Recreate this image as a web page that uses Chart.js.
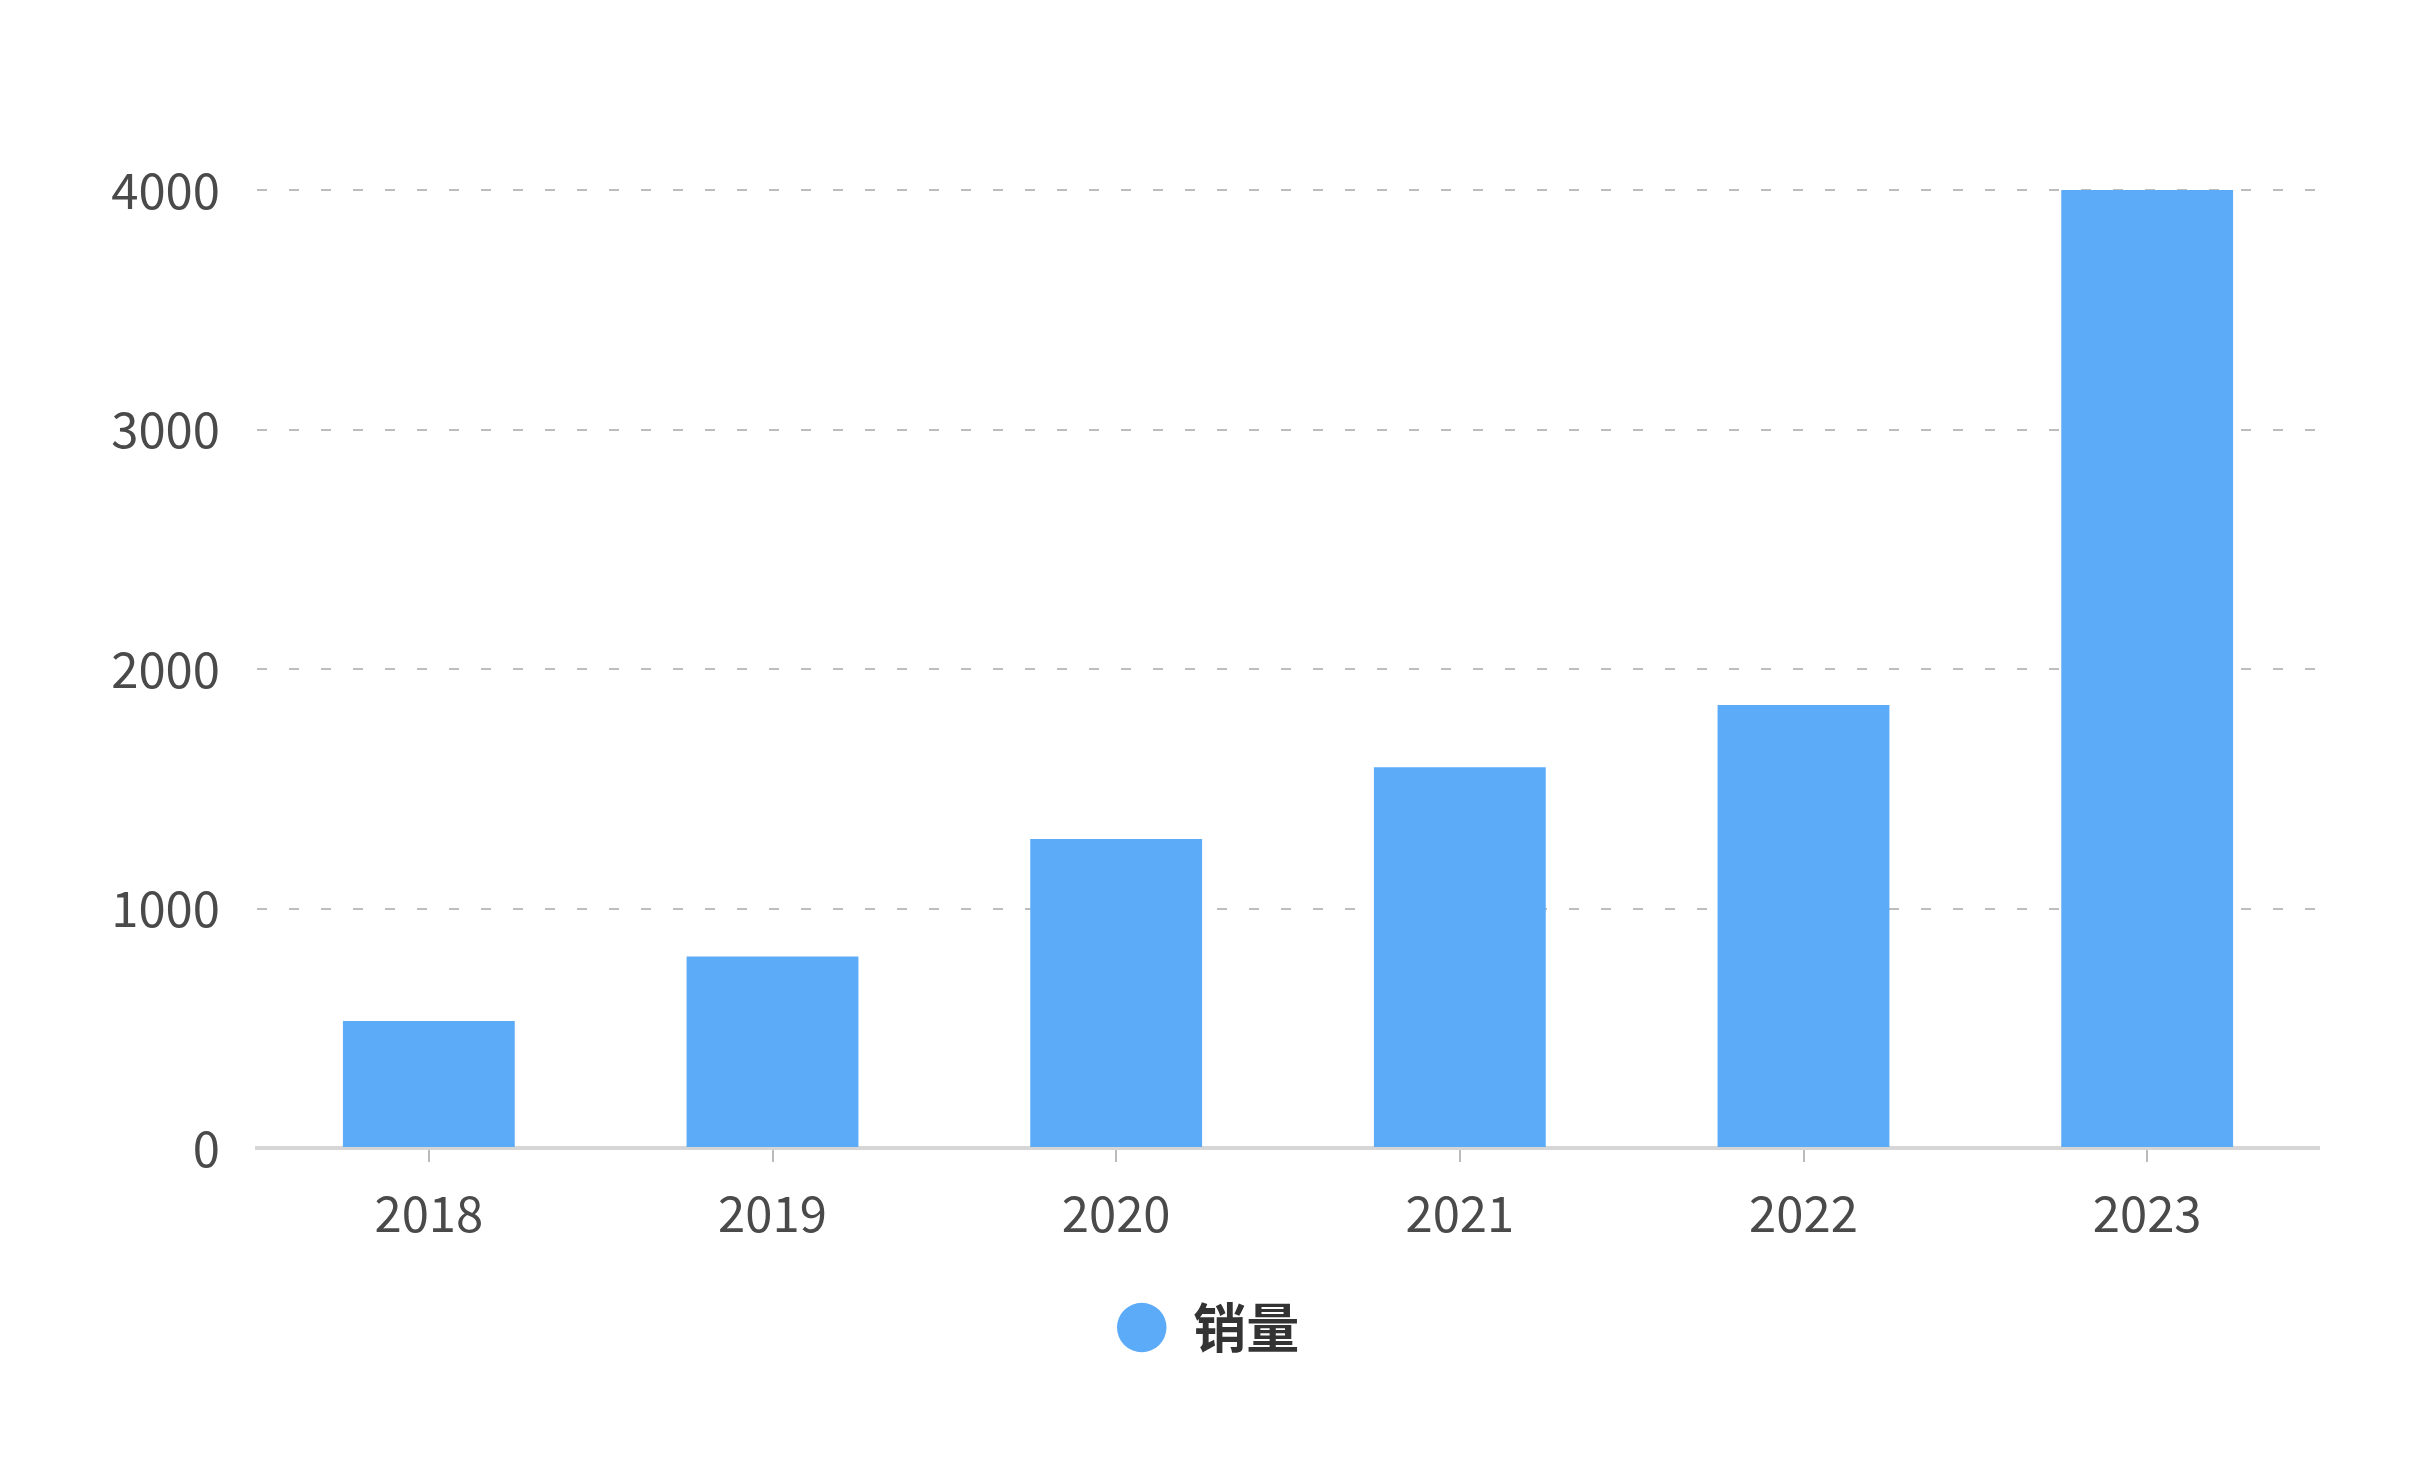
<!DOCTYPE html>
<html>
<head>
<meta charset="utf-8">
<script src="https://cdn.jsdelivr.net/npm/chart.js@4/dist/chart.umd.min.js"></script>
<style>
  html, body { margin: 0; padding: 0; background: #FFFFFF; }
  #wrap { width: 2416px; height: 1472px; }
</style>
</head>
<body>
<div id="wrap"><canvas id="salesChart" width="2416" height="1472"></canvas></div>
<script>
// données du graphique
const years = ['2018', '2019', '2020', '2021', '2022', '2023'];
const sales = [530, 800, 1290, 1590, 1850, 4000];
const yTicks = [0, 1000, 2000, 3000, 4000];
const seriesLabel = '销量';

const barColor = '#5BABF8';
const fontFamily = "'Noto Sans CJK SC', 'Noto Sans', sans-serif";

const ctx = document.getElementById('salesChart');

new Chart(ctx, {
    type: 'bar',
    data: {
        labels: years,
        datasets: [{
            label: seriesLabel,
            data: sales,
            backgroundColor: barColor,
            borderWidth: 0,
            barPercentage: 0.5,
            categoryPercentage: 1.0
        }]
    },
    options: {
        responsive: false,
        devicePixelRatio: 1,
        animation: false,
        layout: {
            padding: { left: 0, right: 0, top: 190, bottom: 108 }
        },
        plugins: {
            legend: {
                display: true,
                position: 'bottom',
                labels: {
                    color: '#333333',
                    usePointStyle: true,
                    pointStyle: 'circle',
                    boxWidth: 50,
                    boxHeight: 35,
                    padding: 33,
                    font: { family: fontFamily, size: 53, weight: 'bold' }
                }
            },
            tooltip: { enabled: false }
        },
        scales: {
            x: {
                grid: {
                    offset: false,
                    drawOnChartArea: false,
                    drawTicks: true,
                    tickLength: 14,
                    tickColor: '#BBBBBB',
                    lineWidth: 2
                },
                border: { display: true, color: '#D6D6D6', width: 4 },
                ticks: {
                    color: '#4A4A4A',
                    padding: 22,
                    font: { family: fontFamily, size: 49 }
                },
                afterFit: (scale) => { scale.height = 120; }
            },
            y: {
                min: yTicks[0],
                max: yTicks[yTicks.length - 1],
                afterBuildTicks: (scale) => {
                    scale.ticks = yTicks.map(v => ({ value: v }));
                },
                grid: {
                    drawTicks: false,
                    color: (c) => c.tick && c.tick.value === 0 ? 'rgba(0,0,0,0)' : '#BDBDBD',
                    lineWidth: 2
                },
                border: { display: false, dash: [10, 22] },
                ticks: {
                    color: '#4A4A4A',
                    padding: 37,
                    font: { family: fontFamily, size: 49 },
                    callback: (v) => String(v)
                },
                afterFit: (scale) => { scale.width = 257; }
            },
            // marge droite vide, pour garder la légende centrée
            yRight: {
                type: 'linear',
                position: 'right',
                display: true,
                grid: { display: false },
                border: { display: false },
                ticks: { display: false },
                afterFit: (scale) => { scale.width = 97; }
            }
        }
    }
});
</script>
</body>
</html>
